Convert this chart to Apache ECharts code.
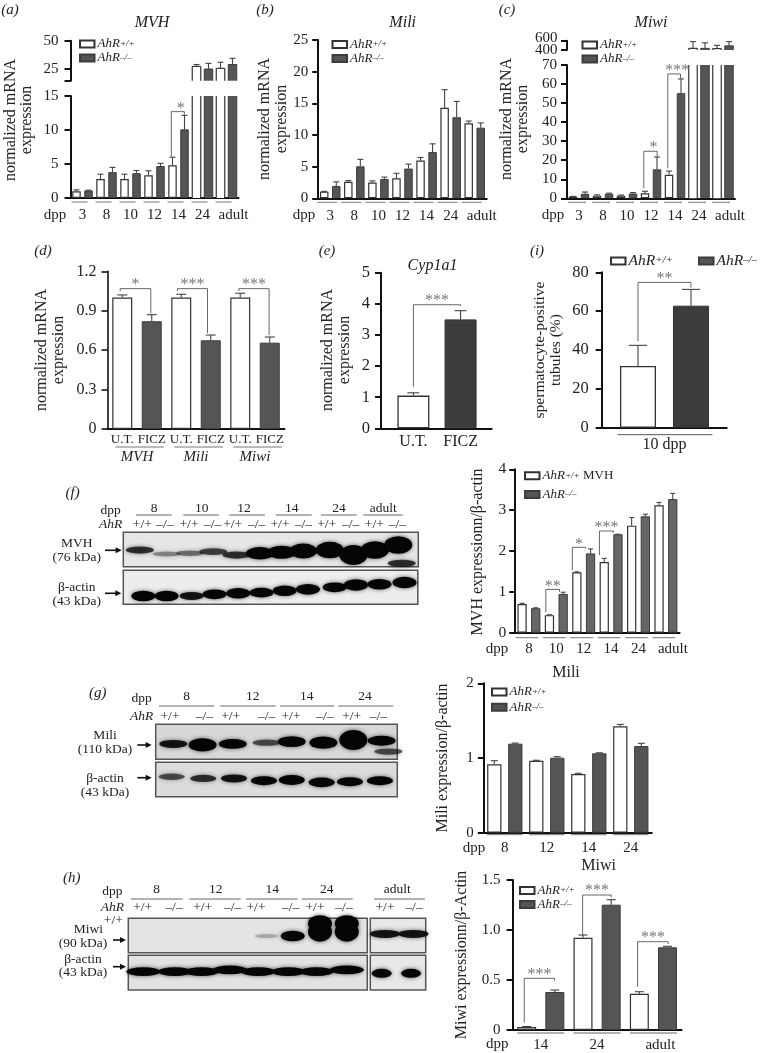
<!DOCTYPE html>
<html>
<head>
<meta charset="utf-8">
<style>html,body{margin:0;background:#fff}#main{width:763px;height:1053px}</style>
<script src="https://cdn.jsdelivr.net/npm/echarts@6/dist/echarts.min.js"></script>
</head>
<body>
<div id="main"></div>
<script>
// 数据
const WT = 'AhR+/+';
const KO = 'AhR–/–';
const dppAll = ['3', '8', '10', '12', '14', '24', 'adult'];
const aWt = [1.0, 2.8, 2.8, 3.35, 4.8, 27.3, 25.6];
const aKo = [1.1, 3.8, 3.65, 4.7, 10.1, 25, 29];
const aWtTop = [1.2, 3.5, 3.5, 4.0, 6.0, 29, 31];
const aKoTop = [1.15, 4.5, 4.05, 5.1, 12.15, 30, 34.5];
const bWt = [1.05, 2.6, 2.5, 3.15, 5.95, 14.3, 11.85];
const bKo = [1.95, 5.05, 3.05, 4.7, 7.3, 12.8, 11.15];
const bWtTop = [1.1, 2.8, 2.75, 3.95, 6.45, 17.15, 12.2];
const bKoTop = [2.6, 6.15, 3.35, 5.4, 8.6, 15.3, 11.9];
const cWt = [0.9, 1.4, 1.4, 2.6, 12.4, 435, 430];
const cKo = [2.4, 2.4, 2.5, 15.2, 55.2, 435, 490];
const cWtTop = [1.0, 1.8, 1.7, 3.7, 14.3, 580, 500];
const cKoTop = [3.3, 2.7, 3.0, 21.7, 62.7, 555, 580];
const dGenes = ['MVH', 'Mili', 'Miwi'];
const dTreat = ['U.T.', 'FICZ', 'U.T.', 'FICZ', 'U.T.', 'FICZ'];
const dUt = [1, 1, 1];
const dFicz = [0.82, 0.675, 0.657];
const dUtTop = [1.02, 1.025, 1.033];
const dFiczTop = [0.87, 0.715, 0.7];
const eLabels = ['U.T.', 'FICZ'];
const eVals = [1.05, 3.5];
const eTops = [1.14, 3.78];
const iVals = [31.8, 62.8];
const iTops = [42.4, 71.2];
const fDpp = ['8', '10', '12', '14', '24', 'adult'];
const fWt = [0.7, 0.43, 1.48, 1.73, 2.62, 3.12];
const fKo = [0.6, 0.947, 1.94, 2.41, 2.85, 3.27];
const fWtTop = [0.72, 0.44, 1.49, 1.82, 2.82, 3.19];
const fKoTop = [0.61, 0.99, 2.05, 2.41, 2.9, 3.41];
const gDpp = ['8', '12', '14', '24'];
const gWt = [0.915, 0.964, 0.786, 1.424];
const gKo = [1.192, 1.004, 1.0625, 1.16];
const gWtTop = [0.964, 0.97, 0.795, 1.45];
const gKoTop = [1.2, 1.018, 1.07, 1.197];
const hDpp = ['14', '24', 'adult'];
const hBlotDpp = ['8', '12', '14', '24', 'adult'];
const hWt = [0.03, 0.923, 0.363];
const hKo = [0.38, 1.253, 0.827];
const hWtTop = [0.035, 0.95, 0.383];
const hKoTop = [0.4, 1.303, 0.837];
// 印迹条带 [泳道位置%, 高度%, 强度]
const mvhBands = [[5.6, 48.5, .25], [14.7, 37, .12], [22.6, 39, .15], [30.5, 43.7, .22], [38.4, 34, .25], [46.3, 39, .55], [53.7, 42, .6], [61, 45.6, .7], [70, 48.5, .8], [78, 34, 1], [85.3, 48.5, .85], [93.2, 63, .85], [94.4, 9.7, .25]];
const mvhActin = [[6.8, 24.5, .45], [14.7, 24.5, .45], [23.2, 24.5, .3], [31, 29.4, .4], [39, 32.4, .45], [46.9, 34.3, .4], [54.8, 40, .45], [62.7, 44, .45], [71.8, 50, .4], [79, 57, .5], [87, 59, .45], [95.5, 64, .5]];
const miliBands = [[7.3, 43.8, .3], [19.4, 41, .6], [31.9, 43.8, .4], [45.9, 47.6, .2], [56.3, 50.5, .45], [69.4, 47.6, .55], [81.8, 55, 1], [93.5, 53, .4], [96.3, 22, .2]];
const miliActin = [[6.6, 58, .2], [19.7, 53, .25], [32.4, 53, .3], [44.8, 46.6, .35], [56.3, 48.5, .4], [68.7, 41.7, .4], [80.4, 43.7, .35], [92.8, 46.6, .35]];
const miwiBands = [[57.9, 48.5, .07], [68.8, 48.5, .45], [80.2, 61, 1], [91.4, 61, 1], [80.2, 85, .8], [91.4, 85, .8]];
const miwiActin = [[6.3, 53, .35], [19.5, 53, .35], [30.7, 53, .35], [42.5, 58, .35], [54.4, 53, .35], [67, 53, .35], [78.8, 53, .35], [91.4, 58, .35]];
const miwiAdult = [[26.5, 54.4, .3], [77.7, 54.4, .3]];
const miwiAdultActin = [[20.5, 48, .35], [73.5, 48, .35]];

const FONT = '"Liberation Serif", serif';
const TXT = '#222';
const GRAY = '#777';
const grids = [], xAxes = [], yAxes = [], series = [], legends = [], graphics = [];

function txt(x, y, text, o) {
  o = o || {};
  graphics.push({
    type: 'text', x: x, y: y, rotation: o.rot ? Math.PI / 2 : 0, silent: true,
    style: {
      text: text, fontFamily: FONT, fontSize: o.size || 15, fontStyle: o.italic ? 'italic' : 'normal',
      fill: o.color || TXT, align: o.align || 'center', verticalAlign: 'middle',
      textAlign: o.align || 'center', textVerticalAlign: 'middle'
    }
  });
}
function hline(x1, x2, y, color, w) {
  graphics.push({ type: 'line', silent: true, shape: { x1: x1, y1: y, x2: x2, y2: y }, style: { stroke: color || GRAY, lineWidth: w || 1 } });
}
function arrow(x1, x2, y) {
  hline(x1, x2 - 4, y, '#111', 1.6);
  graphics.push({ type: 'polygon', silent: true, shape: { points: [[x2, y], [x2 - 6, y - 3], [x2 - 6, y + 3]] }, style: { fill: '#111' } });
}

function addGrid(left, top, width, height, xAxis, yAxis) {
  const i = grids.length;
  grids.push({ left: left, top: top, width: width, height: height });
  xAxes.push(Object.assign({ gridIndex: i }, xAxis));
  yAxes.push(Object.assign({ gridIndex: i }, yAxis));
  return i;
}
function valueAxis(min, max, interval, size, lineW, margin) {
  return {
    type: 'value', min: min, max: max, interval: interval, splitLine: { show: false },
    axisLine: { show: true, onZero: false, lineStyle: { color: '#111', width: lineW || 2 } },
    axisTick: { show: true, length: 6, lineStyle: { color: '#111', width: lineW || 2 } },
    axisLabel: { fontFamily: FONT, fontSize: size || 15, color: TXT, margin: margin || 11, hideOverlap: false }
  };
}
function catAxis(cats, size, margin) {
  return {
    type: 'category', data: cats,
    axisLine: { show: true, lineStyle: { color: '#111', width: 2 } },
    axisTick: { show: false },
    axisLabel: {
      interval: 0, fontFamily: FONT, fontSize: size || 15, color: TXT, margin: margin || 10,
      formatter: function (v) { return v === 'adult' ? '{a|adult}' : v; },
      rich: { a: { fontFamily: FONT, fontSize: size || 15, color: TXT, padding: [0, 0, 0, 14] } }
    }
  };
}

function barStyle(name, fill) {
  return name === KO ? { color: fill || '#555', borderColor: '#3c3c3c', borderWidth: 1 } : { color: '#fff', borderColor: '#333', borderWidth: 1.2 };
}
function barSeries(idx, name, vals, barW, spacing, fill) {
  series.push({
    type: 'bar', name: name, xAxisIndex: idx, yAxisIndex: idx, data: vals, barWidth: barW,
    barGap: (spacing - barW) / barW * 100 + '%', silent: true, animation: false, itemStyle: barStyle(name, fill)
  });
}
function brokenBarSeries(idx, name, rows, barW, fill) {
  // 断轴处的柱子: 开口一侧不画边框 rows: [x, 偏移, 起值, 止值, 是否封顶]
  const st = barStyle(name, fill);
  series.push({
    type: 'custom', xAxisIndex: idx, yAxisIndex: idx, data: rows, silent: true, animation: false, encode: { x: 0, y: [2, 3] },
    renderItem: function (p, api) {
      const a = api.coord([api.value(0), api.value(2)]);
      const b = api.coord([api.value(0), api.value(3)]);
      const x = a[0] + api.value(1) * api.size([1, 0])[0];
      const l = x - barW / 2, r = x + barW / 2;
      const edge = { stroke: st.borderColor, lineWidth: st.borderWidth, fill: null };
      const kids = [
        { type: 'rect', shape: { x: l, y: b[1], width: barW, height: a[1] - b[1] }, style: { fill: st.color } },
        { type: 'line', shape: { x1: l, y1: a[1], x2: l, y2: b[1] }, style: edge },
        { type: 'line', shape: { x1: r, y1: a[1], x2: r, y2: b[1] }, style: edge }
      ];
      if (api.value(4)) kids.push({ type: 'line', shape: { x1: l, y1: b[1], x2: r, y2: b[1] }, style: edge });
      return { type: 'group', children: kids };
    }
  });
}
function errSeries(idx, rows, capPx) {
  // rows: [x, 偏移(带宽比例), 值, 上限]
  series.push({
    type: 'custom', xAxisIndex: idx, yAxisIndex: idx, data: rows, silent: true, animation: false, encode: { x: 0, y: [2, 3] },
    renderItem: function (p, api) {
      const a = api.coord([api.value(0), api.value(2)]);
      const b = api.coord([api.value(0), api.value(3)]);
      const x = a[0] + api.value(1) * api.size([1, 0])[0];
      const st = { stroke: '#444', lineWidth: 1.1 };
      return {
        type: 'group', children: [
          { type: 'line', shape: { x1: x, y1: a[1], x2: x, y2: b[1] }, style: st },
          { type: 'line', shape: { x1: x - capPx, y1: b[1], x2: x + capPx, y2: b[1] }, style: st }
        ]
      };
    }
  });
}
function errRows(vals, tops, frac, keep) {
  const rows = [];
  vals.forEach(function (v, i) { if (keep(i)) rows.push([i, frac, v, tops[i]]); });
  return rows;
}
function bracketSeries(idx, rows, starDy) {
  // rows: [x, 左偏移, 左下端值, 右偏移, 右下端值, 顶值, 星号数, 星号x偏移px]
  series.push({
    type: 'custom', xAxisIndex: idx, yAxisIndex: idx, data: rows, silent: true, animation: false, encode: { x: 0, y: 5 },
    renderItem: function (p, api) {
      const band = api.size([1, 0])[0];
      const cx = api.coord([api.value(0), 0])[0];
      const x1 = cx + api.value(1) * band, x2 = cx + api.value(3) * band;
      const yl = api.coord([api.value(0), api.value(2)])[1];
      const yr = api.coord([api.value(0), api.value(4)])[1];
      const yt = api.coord([api.value(0), api.value(5)])[1];
      const st = { stroke: '#666', lineWidth: 1, fill: null };
      return {
        type: 'group', children: [
          { type: 'polyline', shape: { points: [[x1, yl], [x1, yt], [x2, yt], [x2, yr]] }, style: st },
          { type: 'text', x: (x1 + x2) / 2 + api.value(7), y: yt - (starDy || 3), style: { text: '*'.repeat(api.value(6)), fontFamily: FONT, fontSize: 16, fill: GRAY, align: 'center', verticalAlign: 'middle', textAlign: 'center', textVerticalAlign: 'middle' } }
        ]
      };
    }
  });
}
function underlineSeries(idx, count, halfW, shift, dy, color, w) {
  const rows = [];
  for (let i = 0; i < count; i++) rows.push([i, 0]);
  series.push({
    type: 'custom', xAxisIndex: idx, yAxisIndex: idx, data: rows, silent: true, animation: false, encode: { x: 0, y: 1 },
    renderItem: function (p, api) {
      const c = api.coord([api.value(0), api.value(1)]);
      return { type: 'line', shape: { x1: c[0] + shift - halfW, y1: c[1] + dy, x2: c[0] + shift + halfW, y2: c[1] + dy }, style: { stroke: color || GRAY, lineWidth: w || 1 } };
    }
  });
}
function addLegend(left, top, gap, size, extra, names) {
  const lh = size * 0.78;
  legends.push({
    left: left, top: top, orient: 'vertical', icon: 'rect', itemWidth: 14.5, itemHeight: 7, itemGap: gap, selectedMode: false, padding: 0,
    data: names || [WT, KO],
    formatter: function (n) { return n === WT ? '{i|AhR}{s|+/+}' + (extra ? '{m| ' + extra + '}' : '') : '{i|AhR}{s|–/–}'; },
    textStyle: {
      padding: [0, 0, 0, -2],
      rich: {
        i: { fontFamily: FONT, fontStyle: 'italic', fontSize: size, color: TXT, lineHeight: lh },
        // 上标: 行高很小再贴行顶, 字就被抬高
        s: { fontFamily: FONT, fontStyle: 'italic', fontSize: size * 0.7, color: TXT, lineHeight: 2, verticalAlign: 'top' },
        m: { fontFamily: FONT, fontSize: size, color: TXT, lineHeight: lh }
      }
    }
  });
}

// 分组柱图(含可选断轴)
function groupedPanel(o) {
  const n = o.cats.length;
  const idx = addGrid(o.left, o.top, o.band * n, o.bottom - o.top, catAxis(o.cats, o.labelSize, o.labelMargin), valueAxis(0, o.max, o.interval, o.tickSize, o.lineW, o.tickMargin));
  const sp = o.band / 2;
  const under = function (v) { return v.map(function (x) { return x > o.max ? '-' : x; }); };
  const brokenLow = function (v, frac) {
    const rows = [];
    v.forEach(function (x, i) { if (x > o.max) rows.push([i, frac, 0, o.max, 0]); });
    return rows;
  };
  barSeries(idx, WT, under(o.wt), o.barW, sp, o.fill);
  barSeries(idx, KO, under(o.ko), o.barW, sp, o.fill);
  if (o.upper) {
    brokenBarSeries(idx, WT, brokenLow(o.wt, -0.25), o.barW, o.fill);
    brokenBarSeries(idx, KO, brokenLow(o.ko, 0.25), o.barW, o.fill);
  }
  const lowOk = function (t) { return function (i) { return t[i] <= o.max; }; };
  errSeries(idx, errRows(o.wt, o.wtTop, -0.25, lowOk(o.wtTop)), o.cap);
  errSeries(idx, errRows(o.ko, o.koTop, 0.25, lowOk(o.koTop)), o.cap);
  if (o.brackets) bracketSeries(idx, o.brackets, o.starDy);
  underlineSeries(idx, n, o.ulHalf, o.ulShift, o.ulDy, o.ulColor, o.ulW);
  if (o.upper) {
    const u = o.upper;
    const upY = valueAxis(u.min, u.max, null, o.tickSize, o.lineW, o.tickMargin);
    upY.axisTick.customValues = u.ticks;
    if (u.labels) upY.axisLabel.customValues = u.labels;
    else upY.axisLabel.show = false;
    delete upY.interval;
    const up = addGrid(o.left, u.top, o.band * n, u.bottom - u.top, { type: 'category', data: o.cats, show: false }, upY);
    const brokenHigh = function (v, frac) {
      const rows = [];
      v.forEach(function (x, i) { if (x > o.max) rows.push([i, frac, u.min, x, 1]); });
      return rows;
    };
    brokenBarSeries(up, WT, brokenHigh(o.wt, -0.25), o.barW, o.fill);
    brokenBarSeries(up, KO, brokenHigh(o.ko, 0.25), o.barW, o.fill);
    const hiOk = function (t) { return function (i) { return t[i] > o.max; }; };
    errSeries(up, errRows(o.wt, o.wtTop, -0.25, hiOk(o.wtTop)), o.cap);
    errSeries(up, errRows(o.ko, o.koTop, 0.25, hiOk(o.koTop)), o.cap);
  }
  return idx;
}

// (a)
groupedPanel({
  left: 70.5, top: 96, bottom: 198, band: 24, cats: dppAll, max: 15, interval: 5, barW: 8.5, cap: 3, tickMargin: 12,
  wt: aWt, ko: aKo, wtTop: aWtTop, koTop: aKoTop, ulHalf: 8, ulShift: -3, ulDy: 4,
  brackets: [[4, -0.3, 6.1, 0.243, 12.2, 12.7, 1, 3]],
  upper: { min: 14.7, max: 50, ticks: [14.7, 25, 50], labels: [25, 50], top: 40.7, bottom: 80.7 }
});
addLegend(79, 37.5, 1, 13);
txt(10, 10, '(a)', { italic: true, size: 15 });
txt(152, 23, 'MVH', { italic: true, size: 16 });
txt(10.5, 120, 'normalized mRNA', { rot: true, size: 16 });
txt(27, 120, 'expression', { rot: true, size: 16 });
txt(55, 215, 'dpp');

// (b)
groupedPanel({
  left: 318.2, top: 40, bottom: 198.3, band: 24.08, cats: dppAll, max: 25, interval: 5, barW: 8.5, cap: 3, tickMargin: 10,
  wt: bWt, ko: bKo, wtTop: bWtTop, koTop: bKoTop, ulHalf: 10, ulShift: -3, ulDy: 4
});
addLegend(331.5, 38, 1, 13);
txt(265, 10, '(b)', { italic: true });
txt(402.7, 23, 'Mili', { italic: true, size: 16 });
txt(265, 119, 'normalized mRNA', { rot: true, size: 16 });
txt(282, 119, 'expression', { rot: true, size: 16 });
txt(304, 215, 'dpp');

// (c)
groupedPanel({
  left: 567, top: 65, bottom: 198.3, band: 24, cats: dppAll, max: 70, interval: 10, barW: 8.5, cap: 3, tickMargin: 10,
  wt: cWt, ko: cKo, wtTop: cWtTop, koTop: cKoTop, ulHalf: 9, ulShift: -2, ulDy: 4,
  brackets: [[3, -0.3, 5.25, 0.257, 21.9, 24.7, 1, 3], [4, -0.3, 15.8, 0.23, 63, 65.3, 3, 3]],
  upper: { min: 400, max: 600, ticks: [400, 600], top: 40.7, bottom: 50 }
});
addLegend(581.5, 38.5, 1, 13);
txt(557.5, 37.7, '600', { align: 'right' });
txt(557.5, 50, '400', { align: 'right' });
txt(507, 10, '(c)', { italic: true });
txt(651, 23, 'Miwi', { italic: true, size: 16 });
txt(507, 119, 'normalized mRNA', { rot: true, size: 16 });
txt(523, 119, 'expression', { rot: true, size: 16 });
txt(553, 215, 'dpp');

// (d)
const dIdx = groupedPanel({
  left: 107.5, top: 271.3, bottom: 429, band: 59, cats: dGenes, max: 1.2, interval: 0.3, barW: 20, cap: 5, tickSize: 16, lineW: 1.6, tickMargin: 11,
  wt: dUt, ko: dFicz, wtTop: dUtTop, koTop: dFiczTop, ulHalf: 24.4, ulShift: 2.7, ulDy: 18, labelMargin: 21, labelSize: 15,
  brackets: [[0, -0.285, 1.05, 0.234, 0.88, 1.068, 1, 0], [1, -0.314, 1.05, 0.195, 0.73, 1.068, 3, 0], [2, -0.274, 1.05, 0.239, 0.715, 1.068, 3, 0]],
  starDy: 4
});
yAxes[dIdx].axisLabel.formatter = function (v) { return v === 0 ? '0' : v.toFixed(1); };
xAxes[dIdx].axisLabel.fontStyle = 'italic';
txt(43, 251, '(d)', { italic: true });
txt(42, 350, 'normalized mRNA', { rot: true, size: 16 });
txt(59, 350, 'expression', { rot: true, size: 16 });

// 两根柱子的面板 (e)(i) 用数值型x轴
function pairPanel(o) {
  const idx = addGrid(o.left, o.top, o.width, o.bottom - o.top, {
    type: 'value', min: o.xMin, max: o.xMax, splitLine: { show: false },
    axisLine: { show: true, onZero: false, lineStyle: { color: '#111', width: 2 } }, axisTick: { show: false },
    axisLabel: { customValues: o.labelAt, fontFamily: FONT, fontSize: 16, color: TXT, margin: o.labelMargin, formatter: o.labelFmt, hideOverlap: false }
  }, valueAxis(0, o.max, o.interval, o.tickSize, 2, o.tickMargin));
  [[WT, 0], [KO, 1]].forEach(function (p) {
    series.push({
      type: 'bar', name: p[0], xAxisIndex: idx, yAxisIndex: idx, data: [[p[1], o.vals[p[1]]]], barWidth: o.barW, barGap: '-100%', silent: true, animation: false,
      itemStyle: p[0] === KO ? { color: '#3c3c3c', borderColor: '#333', borderWidth: 1 } : { color: '#fff', borderColor: '#333', borderWidth: 1.3 }
    });
  });
  errSeries(idx, o.vals.map(function (v, i) { return [i, 0, v, o.tops[i]]; }), o.cap);
  bracketSeries(idx, [o.bracket], 4);
  return idx;
}
pairPanel({
  left: 381, top: 272.7, bottom: 428.3, width: 110.7, xMin: -0.687, xMax: 1.66, max: 5, interval: 1, tickSize: 16.5, tickMargin: 11, barW: 32, cap: 6,
  vals: eVals, tops: eTops, labelAt: [0, 1], labelMargin: 5,
  labelFmt: function (v) { return eLabels[Math.round(v)]; },
  bracket: [0, 0, 1.34, 1, 3.93, 3.97, 3, 0]
});
txt(327, 251, '(e)', { italic: true });
txt(432.5, 266, 'Cyp1a1', { italic: true, size: 16 });
txt(328, 350, 'normalized mRNA', { rot: true, size: 16 });
txt(345, 350, 'expression', { rot: true, size: 16 });

const iIdx = pairPanel({
  left: 601.7, top: 272.3, bottom: 427.7, width: 125, xMin: -0.685, xMax: 1.674, max: 80, interval: 20, tickSize: 16.5, tickMargin: 13, barW: 36, cap: 9,
  vals: iVals, tops: iTops, labelAt: [0.5], labelMargin: 9,
  labelFmt: function () { return '10 dpp'; },
  bracket: [0, 0, 44.6, 1, 72.1, 74.8, 2, 0]
});
underlineSeries(iIdx, 1, 47.4, 27, 7, '#555', 1);
addLegend(610, 253, 0, 15.5, null, [WT]);
addLegend(698, 253, 0, 15.5, null, [KO]);
txt(537, 251, '(i)', { italic: true });
txt(540, 350, 'spermatocyte-positive', { rot: true, size: 15.5 });
txt(556, 350, 'tubules (%)', { rot: true, size: 15.5 });

// (f) 右图
groupedPanel({
  left: 515.2, top: 469.3, bottom: 632.7, band: 27.4, cats: fDpp, max: 4, interval: 1, tickSize: 15.5, tickMargin: 9, barW: 9.3, cap: 2.5, fill: '#666',
  wt: fWt, ko: fKo, wtTop: fWtTop, koTop: fKoTop, ulHalf: 11.4, ulShift: -2, ulDy: 5, labelMargin: 9,
  brackets: [[1, -0.383, 0.5, 0.116, 1.0, 1.06, 2, 0], [2, -0.414, 1.53, 0.073, 2.06, 2.09, 1, 0], [3, -0.426, 1.9, 0.085, 2.45, 2.49, 3, 0]],
  starDy: 3
});
addLegend(524, 469.3, 5.7, 13, 'MVH');
txt(477.5, 552, 'MVH expressionn/β-actin', { rot: true, size: 16 });
txt(497, 649, 'dpp');

// (g) 右图
groupedPanel({
  left: 483.8, top: 683.3, bottom: 832.7, band: 42, cats: gDpp, max: 2, interval: 1, barW: 14.3, cap: 3.5, tickMargin: 10,
  wt: gWt, ko: gKo, wtTop: gWtTop, koTop: gKoTop, ulHalf: 17.7, ulShift: 0, ulDy: 2, labelMargin: 8
});
addLegend(491, 685.5, 2.2, 13);
txt(566, 673, 'Mili', { size: 16 });
txt(442.7, 758, 'Mili expression/β-actin', { rot: true, size: 16 });
txt(474, 848, 'dpp');

// (h) 右图
const hIdx = groupedPanel({
  left: 512.6, top: 880, bottom: 1030, band: 56.33, cats: hDpp, max: 1.5, interval: 0.5, barW: 19, cap: 4.5, tickMargin: 12,
  wt: hWt, ko: hKo, wtTop: hWtTop, koTop: hKoTop, ulHalf: 23.5, ulShift: 0, ulDy: 3, ulColor: '#999', ulW: 1.5, labelMargin: 8,
  brackets: [[0, -0.293, 0.073, 0.245, 0.493, 0.517, 3, 0], [1, -0.257, 0.94, 0.251, 1.327, 1.35, 3, 0], [2, -0.281, 0.433, 0.263, 0.86, 0.883, 3, 0]],
  starDy: 4
});
yAxes[hIdx].axisLabel.formatter = function (v) { return v === 0 ? '0' : v.toFixed(1); };
addLegend(519, 884, 1, 13);
txt(598.7, 866, 'Miwi', { size: 16 });
txt(461.7, 955, 'Miwi expressionn/β-Actin', { rot: true, size: 16 });
txt(497.3, 1044, 'dpp');

// 印迹
function blot(left, top, width, height, bands, bg, bandW) {
  const idx = addGrid(left, top, width, height,
    { type: 'value', min: 0, max: 100, show: false },
    { type: 'value', min: 0, max: 100, show: false });
  Object.assign(grids[idx], { show: true, backgroundColor: bg, borderColor: '#555', borderWidth: 1.5 });
  series.push({
    type: 'scatter', xAxisIndex: idx, yAxisIndex: idx, silent: true, animation: false, symbol: 'circle', clip: true,
    symbolSize: function (v) { return [bandW, 3 + 17 * v[2]]; },
    data: bands.map(function (b) {
      return { value: b, itemStyle: { color: '#050505', opacity: Math.min(1, b[2] * 3), shadowBlur: 4, shadowColor: 'rgba(0,0,0,0.6)' } };
    })
  });
}
function blotHeader(groups, groupX, spans, yDpp, yLine, genoX, yGeno, dppX) {
  groups.forEach(function (g, i) { txt(groupX[i], yDpp, g, { size: 13.5 }); hline(spans[i][0], spans[i][1], yLine, '#666'); });
  genoX.forEach(function (x, i) { txt(x, yGeno, i % 2 ? '–/–' : '+/+', { size: 13.5 }); });
  txt(dppX, yDpp + 2, 'dpp', { size: 13.5 });
  txt(dppX, yGeno, 'AhR', { size: 13.5, italic: true });
}

// (f)
blot(123.3, 532.3, 295, 34.4, mvhBands, '#e6e6e6', 28);
blot(123.3, 570.3, 294.5, 34, mvhActin, '#ededed', 24);
blotHeader(fDpp, [154, 201.7, 244, 291.7, 339, 383.3], [[136, 171.7], [183.3, 219], [229.3, 265], [275.7, 311.7], [321, 356.7], [363.3, 402.7]], 508, 515,
  [142.3, 165, 189, 212.7, 232.7, 256.7, 280, 303.3, 326.7, 350.7, 374.3, 397.3], 524, 110.7);
txt(72.7, 493, '(f)', { italic: true });
txt(76.7, 543, 'MVH', { size: 13.5 });
txt(76.7, 557, '(76 kDa)', { size: 13.5 });
txt(76.7, 587, 'β-actin', { size: 13.5 });
txt(76.7, 601, '(43 kDa)', { size: 13.5 });
arrow(105, 121.7, 550.3);
arrow(105, 121.3, 593.3);

// (g)
blot(155.7, 724.3, 241.6, 35, miliBands, '#d8d8d8', 28);
blot(155.7, 762.3, 241.6, 34.4, miliActin, '#dcdcdc', 26);
blotHeader(gDpp, [186.7, 252.7, 306.7, 365], [[159, 214.3], [220.3, 275.7], [280, 334.3], [338.3, 393.3]], 696.7, 706,
  [170, 204.3, 230.7, 266.7, 291, 325, 351.7, 378.3], 716, 141.7);
txt(97.7, 693, '(g)', { italic: true, size: 15 });
txt(105, 735, 'Mili', { size: 13.5 });
txt(105, 749.5, '(110 kDa)', { size: 13.5 });
txt(105, 778, 'β-actin', { size: 13.5 });
txt(105, 792, '(43 kDa)', { size: 13.5 });
arrow(137.3, 151.7, 745);
arrow(137.3, 151.7, 777.7);

// (h)
blot(128.3, 918.3, 239, 34.4, miwiBands, '#e4e4e4', 24);
blot(128.3, 955.3, 239, 34.7, miwiActin, '#e2e2e2', 34);
blot(370.3, 918.3, 55.4, 34.4, miwiAdult, '#e8e8e8', 30);
blot(370.3, 955.3, 55.4, 34.7, miwiAdultActin, '#e8e8e8', 20);
blotHeader(hBlotDpp, [156.7, 215.7, 272.3, 326.7, 397.3], [[131, 182.7], [189.3, 240.7], [246, 297.7], [301.7, 352.7], [374, 425]], 889.3, 899,
  [142.7, 174, 202.7, 232.7, 256, 290.7, 315, 344, 385, 414], 907.7, 112.3);
txt(71.7, 878, '(h)', { italic: true, size: 15 });
txt(113.3, 920, '+/+', { size: 13.5 });
txt(88.3, 929.3, 'Miwi', { size: 13.5 });
txt(83, 943.3, '(90 kDa)', { size: 13.5 });
txt(83, 959.3, 'β-actin', { size: 13.5 });
txt(83, 972.7, '(43 kDa)', { size: 13.5 });
arrow(113, 126, 940);
arrow(113, 126, 966.7);

// d 的第二条x轴: 每根柱子的处理标签 (放最后, 保证前面的坐标轴下标与grid一致)
xAxes.push({
  gridIndex: dIdx, type: 'category', position: 'bottom', data: dTreat, axisLine: { show: false }, axisTick: { show: false },
  axisLabel: { interval: 0, fontFamily: FONT, fontSize: 13, color: TXT, margin: 4 }
});

const chart = echarts.init(document.getElementById('main'), null, { renderer: 'canvas' });
chart.setOption({
  animation: false,
  backgroundColor: '#fff',
  textStyle: { fontFamily: FONT },
  legend: legends,
  grid: grids,
  xAxis: xAxes,
  yAxis: yAxes,
  series: series,
  graphic: graphics
});
</script>
</body>
</html>
